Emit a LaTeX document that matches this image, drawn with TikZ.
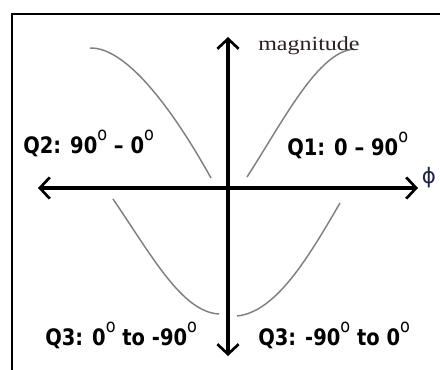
\documentclass[tikz,border=0pt]{standalone}
\usepackage{fontspec}
\setmainfont{Liberation Serif}
\newfontfamily\qfont{DejaVu Sans}
\usetikzlibrary{arrows.meta}
\newcommand{\sdeg}{\raisebox{0.55em}{\fontsize{14}{14}\selectfont\mdseries o}}
\newcommand{\qtext}[1]{\scalebox{0.86}[1]{#1}}
\definecolor{magcol}{RGB}{45,30,35}
\definecolor{phicol}{RGB}{30,35,70}
\begin{document}
\begin{tikzpicture}[x=0.75pt,y=-0.75pt,
  axis/.style={line width=2.4pt,-{Straight Barb[length=7.5pt,width=16pt,line width=2pt]}},
  curve/.style={line width=1.1pt,draw=black!50},
  qlab/.style={font=\qfont\bfseries\fontsize{17}{19}\selectfont,inner sep=0pt,anchor=base west}]
\useasboundingbox (0,0) rectangle (440,369);
\draw[line width=2.2pt] (441,14) -- (12,14) -- (12,370);

\coordinate (o) at (228,188);
\coordinate (xl) at (38,188);
\coordinate (xr) at (418,188);
\coordinate (yt) at (228,37);
\coordinate (yb) at (228,356);
\draw[axis] (o) -- (xl);
\draw[axis] (o) -- (xr);
\draw[axis] (o) -- (yt);
\draw[axis] (o) -- (yb);

% the four quarter waves
\draw[curve] (247,177) .. controls (285,118) and (318,52) .. (354,49);
\draw[curve] (90,48) .. controls (126,47) and (172,108) .. (211,178);
\draw[curve] (113,199) .. controls (152,256) and (182,312) .. (219,314);
\draw[curve] (237,316) .. controls (276,312) and (308,258) .. (340,203);

\node[anchor=base west,inner sep=0pt,font=\fontsize{15}{17}\selectfont,text=magcol] (mag) at (258,50) {\scalebox{1.2}[1]{magnitude}};
\node[inner sep=0pt,font=\qfont\fontsize{16}{18}\selectfont,text=phicol] (phi) at (429,178) {ϕ};
\node[qlab] (q1) at (287,155) {\qtext{Q1: 0 – 90\sdeg}};
\node[qlab] (q2) at (23,153) {\qtext{Q2: 90\sdeg{} – 0\sdeg}};
\node[qlab] (q3) at (45,345) {\qtext{Q3: 0\sdeg{} to -90\sdeg}};
\node[qlab] (q4) at (258,345) {\qtext{Q3: -90\sdeg{} to 0\sdeg}};
\end{tikzpicture}
\end{document}
